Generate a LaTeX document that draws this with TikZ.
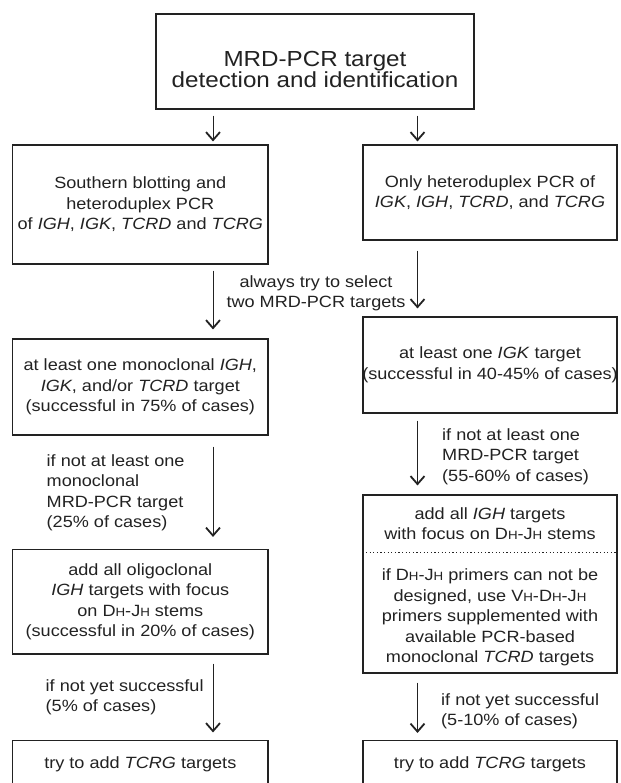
\documentclass[tikz,border=0pt]{standalone}
\usepackage{fontspec}
\setmainfont{Liberation Sans}[FakeStretch=1.11]
\usetikzlibrary{arrows.meta}
\definecolor{ink}{HTML}{222222}
\newcommand{\smH}{{\fontsize{12}{12}\selectfont H}}
\newcommand{\bodyfont}{\fontsize{16.3}{20.5}\selectfont}
\begin{document}
\begin{tikzpicture}[x=1pt,y=-1pt,
  box/.style={draw=ink, line width=1.1pt, inner sep=0pt, align=center, text=ink, font=\bodyfont},
  lbl/.style={inner sep=0pt, text=ink, font=\bodyfont},
  arr/.style={draw=ink, line width=1pt, -{Straight Barb[length=8pt,width=14pt,line width=1.8pt]}}
]
\useasboundingbox (0,0) rectangle (620,783);
\clip (0,0) rectangle (620,783);
\fill[white] (0,0) rectangle (620,783);

% boxes
\node[box, minimum width=318pt, minimum height=95pt] (top) at (315,61.5) {};
\node[inner sep=0pt, text=ink, align=center, font=\fontsize{21.8}{19}\selectfont] (title) at (315,69.5) {MRD-PCR target\\detection and identification};

\node[box, minimum width=255.3pt, minimum height=119pt] (L1) at (140.3,204.5) {Southern blotting and\\heteroduplex PCR\\of \textit{IGH}, \textit{IGK}, \textit{TCRD} and \textit{TCRG}};
\node[box, minimum width=254pt, minimum height=95pt] (R1) at (490,192.5) {Only heteroduplex PCR of\\\textit{IGK}, \textit{IGH}, \textit{TCRD}, and \textit{TCRG}};

\node[box, minimum width=255.3pt, minimum height=96pt] (L2) at (140.3,387) {at least one monoclonal \textit{IGH},\\\textit{IGK}, and/or \textit{TCRD} target\\(successful in 75\% of cases)};
\node[box, minimum width=254pt, minimum height=96pt] (R2) at (490,365) {at least one \textit{IGK} target\\\makebox[250pt][c]{(successful in 40-45\% of cases)}};

\node[box, minimum width=255.3pt, minimum height=104.5pt] (L3) at (140.3,601.75) {add all oligoclonal\\\textit{IGH} targets with focus\\on D\smH-J\smH{} stems\\(successful in 20\% of cases)};

\node[box, minimum width=254pt, minimum height=178pt] (R3) at (490,584) {};
\coordinate (dotl) at (0,552);
\draw[ink, line width=1pt, dash pattern=on 1.2pt off 2.4pt] (R3.west |- dotl) -- (R3.east |- dotl);
\node[lbl, align=center] (R3a) at (490,523.5) {add all \textit{IGH} targets\\with focus on D\smH-J\smH{} stems};
\node[lbl, align=center] (R3b) at (490,617.5) {if D\smH-J\smH{} primers can not be\\designed, use V\smH-D\smH-J\smH\\primers supplemented with\\available PCR-based\\monoclonal \textit{TCRD} targets};

\node[box, minimum width=255.3pt, minimum height=48pt] (L4) at (140.3,764.5) {try to add \textit{TCRG} targets};
\node[box, minimum width=254pt, minimum height=48pt] (R4) at (490,764.5) {try to add \textit{TCRG} targets};

% labels
\node[lbl, align=center] (sel) at (316,293.5) {always try to select\\two MRD-PCR targets};
\node[lbl, align=left, anchor=west] (c1) at (46.5,493) {if not at least one\\monoclonal\\MRD-PCR target\\(25\% of cases)};
\node[lbl, align=left, anchor=west] (c2) at (442,456.5) {if not at least one\\MRD-PCR target\\(55-60\% of cases)};
\node[lbl, align=left, anchor=west] (c3) at (45.5,697.5) {if not yet successful\\(5\% of cases)};
\node[lbl, align=left, anchor=west] (c4) at (441,711.5) {if not yet successful\\(5-10\% of cases)};

% arrows
\coordinate (ax) at (213,0);
\coordinate (bx) at (417.5,0);
\draw[arr, shorten <=6pt, shorten >=3pt] (top.south -| ax) -- (L1.north -| ax);
\draw[arr, shorten <=6pt, shorten >=3pt] (top.south -| bx) -- (R1.north -| bx);
\draw[arr, shorten <=6pt, shorten >=9pt] (L1.south -| ax) -- (L2.north -| ax);
\draw[arr, shorten <=10pt, shorten >=8pt] (R1.south -| bx) -- (R2.north -| bx);
\draw[arr, shorten <=11pt, shorten >=12pt] (L2.south -| ax) -- (L3.north -| ax);
\draw[arr, shorten <=7pt, shorten >=9pt] (R2.south -| bx) -- (R3.north -| bx);
\draw[arr, shorten <=9pt, shorten >=7.5pt] (L3.south -| ax) -- (L4.north -| ax);
\draw[arr, shorten <=9pt, shorten >=7pt] (R3.south -| bx) -- (R4.north -| bx);
\end{tikzpicture}
\end{document}
